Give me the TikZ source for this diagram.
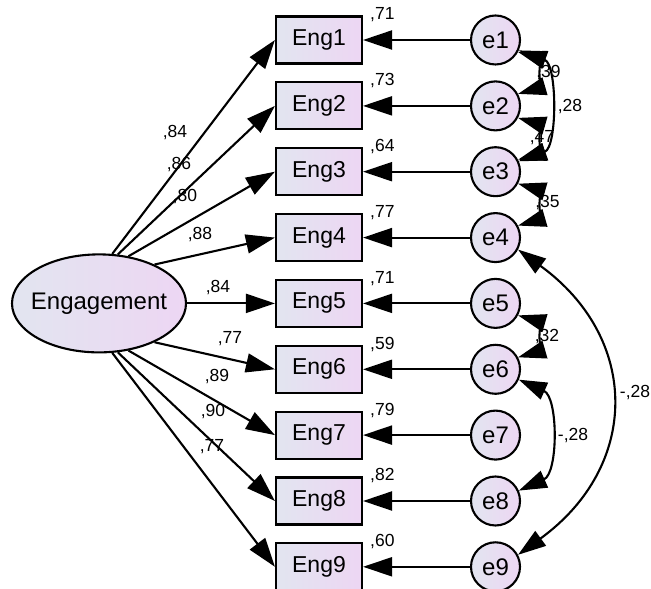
\documentclass[tikz,border=0pt]{standalone}
\usepackage{fontspec}
\setmainfont{Liberation Sans}
\usetikzlibrary{arrows.meta,shapes.geometric}
\definecolor{shL}{RGB}{226,229,240}
\definecolor{shR}{RGB}{237,214,243}
\tikzset{
  obs/.style={draw, line width=2.1pt, left color=shL, right color=shR,
    minimum width=86pt, minimum height=47pt, inner sep=0pt,
    font=\fontsize{23}{27}\selectfont},
  err/.style={circle, draw, line width=2.1pt, left color=shL, right color=shR,
    minimum size=49pt, inner sep=0pt, font=\fontsize{24}{28}\selectfont},
  lat/.style={ellipse, draw, line width=2.1pt, left color=shL, right color=shR,
    minimum width=174pt, minimum height=98pt, inner sep=0pt},
  ld/.style={line width=2.1pt, -{Triangle[length=29pt,width=19pt]}},
  cov/.style={line width=2.1pt, {Triangle[length=28pt,width=18pt]}-{Triangle[length=28pt,width=18pt]}},
  lbl/.style={font=\fontsize{17.5}{20}\selectfont, inner sep=0pt}
}
\begin{document}
\begin{tikzpicture}[x=1pt,y=1pt]
\useasboundingbox (0,0) rectangle (651,589);
% latent
\node[lat, label={[font=\fontsize{24}{28}\selectfont]center:Engagement}] (E) at (99,285.6) {};
% indicators and errors
\node[obs] (B1) at (319,549) {Eng1};
\node[obs] (B2) at (319,483.1) {Eng2};
\node[obs] (B3) at (319,417.3) {Eng3};
\node[obs] (B4) at (319,351.4) {Eng4};
\node[obs] (B5) at (319,285.6) {Eng5};
\node[obs] (B6) at (319,219.7) {Eng6};
\node[obs] (B7) at (319,153.9) {Eng7};
\node[obs] (B8) at (319,88) {Eng8};
\node[obs] (B9) at (319,22.2) {Eng9};
\node[err] (e1) at (495.5,549) {e1};
\node[err] (e2) at (495.5,483.1) {e2};
\node[err] (e3) at (495.5,417.3) {e3};
\node[err] (e4) at (495.5,351.4) {e4};
\node[err] (e5) at (495.5,285.6) {e5};
\node[err] (e6) at (495.5,219.7) {e6};
\node[err] (e7) at (495.5,153.9) {e7};
\node[err] (e8) at (495.5,88) {e8};
\node[err] (e9) at (495.5,22.2) {e9};
% R-squared labels
\node[lbl, anchor=west] (r1) at (370,574) {,71};
\node[lbl, anchor=west] (r2) at (370,508.1) {,73};
\node[lbl, anchor=west] (r3) at (370,442.3) {,64};
\node[lbl, anchor=west] (r4) at (370,376.4) {,77};
\node[lbl, anchor=west] (r5) at (370,310.6) {,71};
\node[lbl, anchor=west] (r6) at (370,244.7) {,59};
\node[lbl, anchor=west] (r7) at (370,178.9) {,79};
\node[lbl, anchor=west] (r8) at (370,113) {,82};
\node[lbl, anchor=west] (r9) at (370,47.2) {,60};
% loading labels
\node[lbl] (l1) at (175,456) {,84};
\node[lbl] (l2) at (179,424) {,86};
\node[lbl] (l3) at (185,392) {,80};
\node[lbl] (l4) at (200,354) {,88};
\node[lbl] (l5) at (218,301) {,84};
\node[lbl] (l6) at (230,250) {,77};
\node[lbl] (l7) at (217,212) {,89};
\node[lbl] (l8) at (213,177) {,90};
\node[lbl] (l9) at (212,142) {,77};
% covariance labels
\node[lbl] (c12) at (548.5,516) {,39};
\node[lbl] (c23) at (542,451) {,47};
\node[lbl] (c13) at (570,482) {,28};
\node[lbl] (c34) at (547.5,386) {,35};
\node[lbl] (c56) at (547,252) {,32};
\node[lbl] (c68) at (573,153) {-,28};
\node[lbl] (c49) at (635,196) {-,28};
% loadings
\draw[ld] (E.75) -- (B1.west);
\draw[ld] (E.69) -- (B2.west);
\draw[ld] (E.58) -- (B3.west);
\draw[ld] (E.35) -- (B4.west);
\draw[ld] (E.0) -- (B5.west);
\draw[ld] (E.-35) -- (B6.west);
\draw[ld] (E.-58) -- (B7.west);
\draw[ld] (E.-69) -- (B8.west);
\draw[ld] (E.-75) -- (B9.west);
% error paths
\draw[ld] (e1) -- (B1);
\draw[ld] (e2) -- (B2);
\draw[ld] (e3) -- (B3);
\draw[ld] (e4) -- (B4);
\draw[ld] (e5) -- (B5);
\draw[ld] (e6) -- (B6);
\draw[ld] (e7) -- (B7);
\draw[ld] (e8) -- (B8);
\draw[ld] (e9) -- (B9);
% covariances
\draw[cov] (e1.-28) to[out=-16,in=16,looseness=1.25] (e2.28);
\draw[cov] (e2.-28) to[out=-16,in=16,looseness=1.25] (e3.28);
\draw[cov] (e1.-24) to[out=-20,in=20,looseness=0.95] (e3.24);
\draw[cov] (e3.-28) to[out=-16,in=16,looseness=1.25] (e4.28);
\draw[cov] (e5.-28) to[out=-16,in=16,looseness=1.25] (e6.28);
\draw[cov] (e6.-24) to[out=-24,in=24,looseness=1.0] (e8.24);
\draw[cov] (e4.-28) to[out=-36,in=36,looseness=1.27] (e9.28);
\end{tikzpicture}
\end{document}
